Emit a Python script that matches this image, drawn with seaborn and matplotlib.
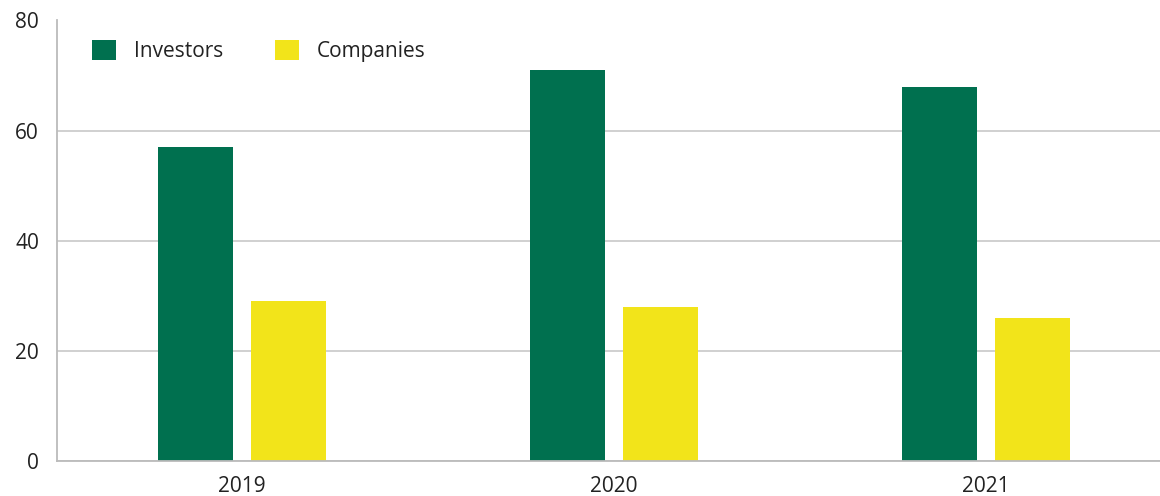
import matplotlib
matplotlib.use("Agg")
import matplotlib.pyplot as plt
import seaborn as sns
import pandas as pd

years = ["2019", "2020", "2021"]
investors = [57, 71, 68]
companies = [29, 28, 26]
series_names = ["Investors", "Companies"]
colors = ["#00704F", "#F2E41A"]
yticks = [0, 20, 40, 60, 80]

df = pd.DataFrame({
    "year": years * 2,
    "value": investors + companies,
    "series": [series_names[0]] * 3 + [series_names[1]] * 3,
})

sns.set_theme(style="white")
plt.rcParams["font.family"] = ["Open Sans", "DejaVu Sans"]

fig = plt.figure(figsize=(11.6, 4.96), dpi=100)
ax = fig.add_axes([57 / 1160, 35 / 496, 1103 / 1160, 440.5 / 496])

sns.barplot(data=df, x="year", y="value", hue="series", palette=colors,
            width=0.5006, gap=0.193, saturation=1, ax=ax, errorbar=None,
            linewidth=0)

ax.set_xlim(-0.498, 2.469)
ax.set_ylim(0, 80)
ax.set_yticks(yticks)
ax.set_xlabel("")
ax.set_ylabel("")
ax.yaxis.grid(True, color="#c8c8c8", linewidth=1.2)
ax.set_axisbelow(True)
for s in ["top", "right"]:
    ax.spines[s].set_visible(False)
for s in ["left", "bottom"]:
    ax.spines[s].set_color("#bbbbbb")
    ax.spines[s].set_linewidth(1.3)
ax.tick_params(axis="both", length=0, labelsize=15, labelcolor="#222222")
ax.tick_params(axis="y", pad=13)
ax.tick_params(axis="x", pad=11)

handles, labels = ax.get_legend_handles_labels()
ax.legend(handles, labels, loc="center left", bbox_to_anchor=(0.0317, 0.931),
          frameon=False, ncol=2, fontsize=15, handlelength=1.15, handleheight=1.15,
          handletextpad=0.85, columnspacing=2.5, borderpad=0, borderaxespad=0,
          labelcolor="#222222")

fig.savefig("out.png", dpi=100)
